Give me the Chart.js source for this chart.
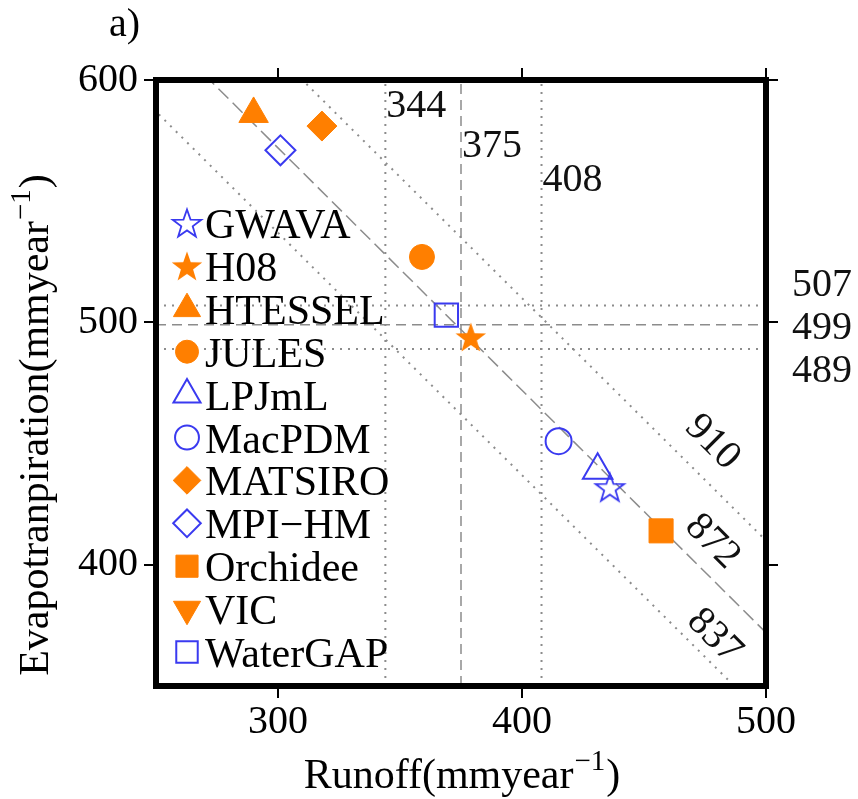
<!DOCTYPE html>
<html><head><meta charset="utf-8">
<script src="https://cdn.jsdelivr.net/npm/chart.js@4.4.0/dist/chart.umd.min.js"></script>
<style>html,body{margin:0;padding:0;background:#fff;}</style>
</head><body>
<canvas id="c" width="858" height="799" style="width:858px;height:799px;display:block"></canvas>
<script>
// ---- data ----
const models = ['GWAVA','H08','HTESSEL','JULES','LPJmL','MacPDM','MATSIRO','MPI\u2212HM','Orchidee','VIC','WaterGAP'];
const runoff = [436, 379, 290, 359, 431, 415, 318, 301, 457, null, 369];
const evap   = [432, 494, 586, 527, 439, 451, 581, 571, 414, null, 503];
const runoffLines = [344, 375, 408];
const evapLines   = [507, 499, 489];
const sumLines    = [910, 872, 837];
const xTicks = [300, 400, 500];
const yTicks = [400, 500, 600];

// ---- styles ----
const ORANGE = '#FF7F00', BLUE = '#3A3AF0', GRAY = '#8c8c8c';
const SERIF = "'Liberation Serif','Times New Roman',serif";

function makeStar(fill, stroke, R) {
  const s = Math.ceil(2 * R + 4);
  const c = document.createElement('canvas');
  c.width = s; c.height = s;
  const g = c.getContext('2d');
  const cx = s / 2, cy = s / 2 + R * 0.095;
  g.beginPath();
  for (let k = 0; k < 10; k++) {
    const r = k % 2 ? R * 0.4 : R;
    const a = -Math.PI / 2 + k * Math.PI / 5;
    g.lineTo(cx + r * Math.cos(a), cy + r * Math.sin(a));
  }
  g.closePath();
  if (fill) { g.fillStyle = fill; g.fill(); }
  if (stroke) { g.strokeStyle = stroke; g.lineWidth = 1.8; g.stroke(); }
  return c;
}
const openStar = makeStar(null, BLUE, 15);
const fullStar = makeStar(ORANGE, null, 16);

// marker style for each model (same order as models)
const markers = [
  {style: openStar,   r: 15,   filled: false},
  {style: fullStar,   r: 16,   filled: true},
  {style: 'triangle', r: 17,   filled: true},
  {style: 'circle',   r: 12.5, filled: true},
  {style: 'triangle', r: 17,   filled: false},
  {style: 'circle',   r: 13,   filled: false},
  {style: 'rectRot',  r: 15,   filled: true},
  {style: 'rectRot',  r: 15,   filled: false},
  {style: 'rect',     r: 17,   filled: true},
  {style: 'triangle', r: 17,   filled: true, rot: 180},
  {style: 'rect',     r: 16.5, filled: false}
];

const datasets = [];
models.forEach((m, i) => {
  const mk = markers[i];
  const col = mk.filled ? ORANGE : BLUE;
  datasets.push({
    label: m,
    data: runoff[i] == null ? [] : [{x: runoff[i], y: evap[i]}],
    pointStyle: mk.style,
    pointRadius: mk.r,
    pointHoverRadius: mk.r,
    rotation: mk.rot || 0,
    backgroundColor: mk.filled ? col : 'rgba(0,0,0,0)',
    borderColor: col,
    borderWidth: mk.filled ? 1 : 2,
    order: 0
  });
});
function refLine(pts, dash) {
  return {label: '_ref', data: pts, showLine: true, pointRadius: 0, borderColor: GRAY,
          borderWidth: dash ? 1.5 : 2, borderDash: dash || [2, 6], order: 1, fill: false};
}
runoffLines.forEach((v, i) => datasets.push(refLine([{x: v, y: 350}, {x: v, y: 600}], i === 1 ? [10, 6] : null)));
evapLines.forEach((v, i) => datasets.push(refLine([{x: 250, y: v}, {x: 500, y: v}], i === 1 ? [10, 6] : null)));
sumLines.forEach((v, i) => datasets.push(refLine([{x: 200, y: v - 200}, {x: 550, y: v - 550}], i === 1 ? [14, 6] : null)));

const gridOpts = {display: true, drawOnChartArea: false, drawTicks: true, tickLength: 12, color: '#000', lineWidth: 2};
const tickFont = {family: SERIF, size: 40};

function drawSupText(ctx, main, sup, tail, x, y, size) {
  ctx.font = size + 'px ' + SERIF;
  const w1 = ctx.measureText(main).width;
  const w3 = ctx.measureText(tail).width;
  ctx.font = Math.round(size * 0.68) + 'px ' + SERIF;
  const w2 = ctx.measureText(sup).width;
  const total = w1 + w2 + w3 + 2;
  let cx = x - total / 2;
  ctx.textAlign = 'left'; ctx.textBaseline = 'alphabetic';
  ctx.font = size + 'px ' + SERIF; ctx.fillText(main, cx, y); cx += w1 + 1;
  ctx.font = Math.round(size * 0.68) + 'px ' + SERIF; ctx.fillText(sup, cx, y - size * 0.42); cx += w2 + 1;
  ctx.font = size + 'px ' + SERIF; ctx.fillText(tail, cx, y);
}

const overlay = {
  id: 'overlay',
  afterDraw(chart) {
    const ctx = chart.ctx, a = chart.chartArea;
    const xs = chart.scales.x, ys = chart.scales.y;
    ctx.save();
    // frame
    ctx.strokeStyle = '#000'; ctx.lineWidth = 6; ctx.lineJoin = 'miter';
    ctx.strokeRect(a.left, a.top, a.right - a.left, a.bottom - a.top);
    ctx.fillStyle = '#111';
    // vertical line labels (staggered)
    ctx.font = '40px ' + SERIF; ctx.textAlign = 'left'; ctx.textBaseline = 'alphabetic';
    const topBase = [37, 77, 111];
    runoffLines.forEach((v, i) => ctx.fillText(String(v), xs.getPixelForValue(v) + 1, a.top + topBase[i]));
    // horizontal line labels on right
    const midY = ys.getPixelForValue(evapLines[1]);
    evapLines.forEach((v, i) => ctx.fillText(String(v), a.right + 26, midY + 14 + (i - 1) * 43));
    // diagonal labels
    const diagPos = [[478, 450.5], [478, 409.5], [478.8, 370.5]];
    sumLines.forEach((v, i) => {
      const px = xs.getPixelForValue(diagPos[i][0]), py = ys.getPixelForValue(diagPos[i][1]);
      ctx.save(); ctx.translate(px, py); ctx.rotate(Math.PI / 4);
      ctx.textAlign = 'center'; ctx.textBaseline = 'middle';
      ctx.fillText(String(v), 0, 0); ctx.restore();
    });
    // legend
    const H = Chart.helpers;
    models.forEach((m, i) => {
      const mk = markers[i];
      const y = 223 + i * 42.9, x = 187;
      const col = mk.filled ? ORANGE : BLUE;
      ctx.fillStyle = mk.filled ? col : 'rgba(0,0,0,0)';
      ctx.strokeStyle = col; ctx.lineWidth = mk.filled ? 1 : 2;
      H.drawPoint(ctx, {pointStyle: mk.style, rotation: mk.rot || 0, radius: mk.r * 0.92, borderWidth: mk.filled ? 1 : 2}, x, y);
      ctx.fillStyle = '#000';
      ctx.font = '42px ' + SERIF; ctx.textAlign = 'left'; ctx.textBaseline = 'alphabetic';
      ctx.fillText(m, 205, y + 15);
    });
    // axis titles
    ctx.fillStyle = '#000';
    drawSupText(ctx, 'Runoff(mmyear', '\u22121', ')', (a.left + a.right) / 2 + 1, 788, 42);
    ctx.save(); ctx.translate(48, 425); ctx.rotate(-Math.PI / 2);
    drawSupText(ctx, 'Evapotranpiration(mmyear', '\u22121', ')', 0, 0, 42);
    ctx.restore();
    // panel label
    ctx.font = '40px ' + SERIF; ctx.textAlign = 'left'; ctx.textBaseline = 'alphabetic';
    ctx.fillText('a)', 109, 36);
    ctx.restore();
  }
};

new Chart(document.getElementById('c'), {
  type: 'scatter',
  data: {datasets},
  options: {
    responsive: false, animation: false, devicePixelRatio: 1,
    layout: {padding: 0},
    plugins: {legend: {display: false}, tooltip: {enabled: false}},
    scales: {
      x: {type: 'linear', position: 'bottom', min: 250, max: 500,
          afterBuildTicks: s => { s.ticks = xTicks.map(v => ({value: v})); },
          afterFit: s => { s.height = 113; },
          grid: gridOpts, border: {display: false},
          ticks: {font: tickFont, color: '#000', padding: 0, maxRotation: 0, autoSkip: false}},
      x2: {type: 'linear', position: 'top', min: 250, max: 500,
          afterBuildTicks: s => { s.ticks = xTicks.map(v => ({value: v})); },
          afterFit: s => { s.height = 80; },
          grid: gridOpts, border: {display: false}, ticks: {display: false}},
      y: {type: 'linear', position: 'left', min: 350, max: 600,
          afterBuildTicks: s => { s.ticks = yTicks.map(v => ({value: v})); },
          afterFit: s => { s.width = 156; },
          grid: gridOpts, border: {display: false},
          ticks: {font: tickFont, color: '#000', padding: 6, autoSkip: false}},
      y2: {type: 'linear', position: 'right', min: 350, max: 600,
          afterBuildTicks: s => { s.ticks = yTicks.map(v => ({value: v})); },
          afterFit: s => { s.width = 92; },
          grid: gridOpts, border: {display: false}, ticks: {display: false}}
    }
  },
  plugins: [overlay]
});
</script>
</body></html>
